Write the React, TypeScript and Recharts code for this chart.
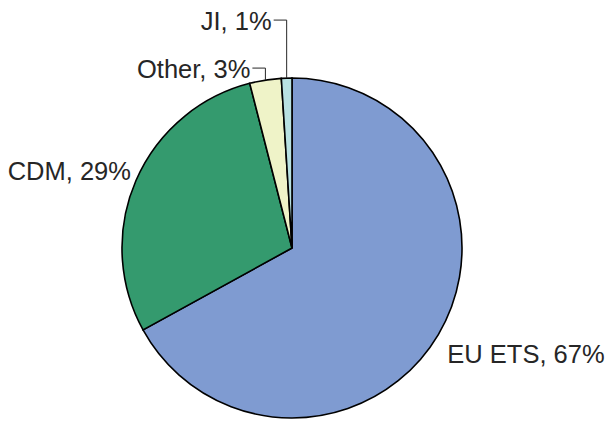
import React from 'react';
import { PieChart, Pie, Cell } from 'recharts';

const categories = ['EU ETS', 'CDM', 'Other', 'JI'];
const shares = [67, 29, 3, 1];
const colors = ['#7f9bd1', '#349a6e', '#eff3c8', '#b8e1e2'];

// label placement relative to the slice's outer edge point
const labelPlacement = [
  { dx: 9, dy: 19, anchor: 'start', elbow: null },
  { dx: -5, dy: -9, anchor: 'end', elbow: null },
  { dx: 0, dy: 0, anchor: 'end', elbow: { up: 12, left: 13 } },
  { dx: 0, dy: 0, anchor: 'end', elbow: { up: 58, left: 13 } },
];

const data = categories.map((name, i) => ({ name, value: shares[i] }));

const RAD = Math.PI / 180;

const renderLabel = (props: any) => {
  const { cx, cy, midAngle, outerRadius, index } = props;
  const px = cx + outerRadius * Math.cos(-midAngle * RAD);
  const py = cy + outerRadius * Math.sin(-midAngle * RAD);
  const p = labelPlacement[index];
  const text = `${categories[index]}, ${shares[index]}%`;
  const style = { fontFamily: '"Liberation Sans", Arial, sans-serif', fontSize: 25.5, fill: '#262626' };
  if (p.elbow) {
    const ex = px;
    const ey = py - p.elbow.up;
    const lx = ex - p.elbow.left;
    return (
      <g>
        <path d={`M${px},${py}L${ex},${ey}L${lx},${ey}`} stroke="#262626" strokeWidth={1} fill="none" />
        <text x={lx - 2} y={ey + 1} textAnchor="end" dominantBaseline="central" style={style}>
          {text}
        </text>
      </g>
    );
  }
  return (
    <text x={px + p.dx} y={py + p.dy} textAnchor={p.anchor as any} dominantBaseline="central" style={style}>
      {text}
    </text>
  );
};

const App: React.FC = () => {
  return (
    <div style={{ position: 'fixed', top: 0, left: 0, width: 605, height: 421, background: '#fff' }}>
      <PieChart width={605} height={421} margin={{ top: 0, right: 0, bottom: 0, left: 0 }}>
        <Pie
          data={data}
          dataKey="value"
          nameKey="name"
          cx={292}
          cy={248}
          outerRadius={170}
          startAngle={90}
          endAngle={-270}
          stroke="#000"
          strokeWidth={1.6}
          label={renderLabel}
          labelLine={false}
          isAnimationActive={false}
        >
          {data.map((d, i) => (
            <Cell key={d.name} fill={colors[i]} />
          ))}
        </Pie>
      </PieChart>
    </div>
  );
};

export default App;
